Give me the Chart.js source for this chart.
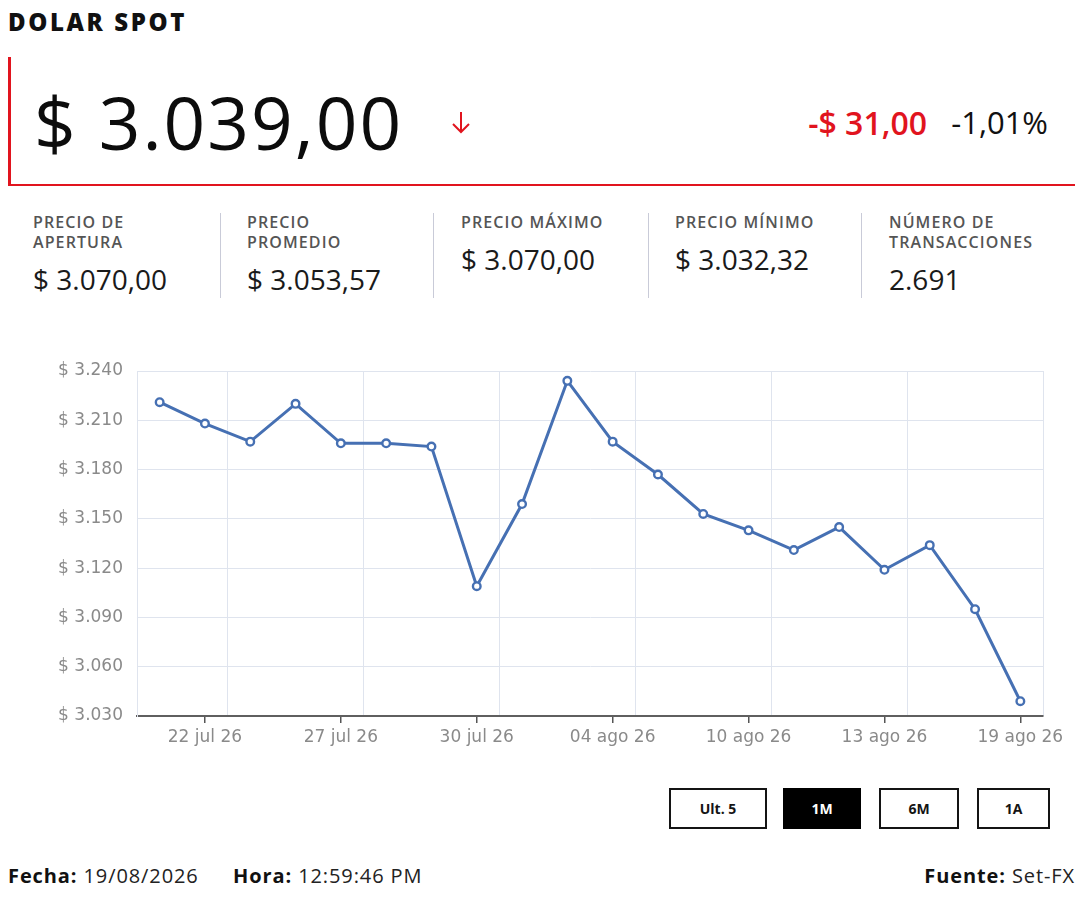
<!DOCTYPE html>
<html lang="es">
<head>
<meta charset="utf-8">
<script src="https://cdn.jsdelivr.net/npm/chart.js@4.4.1/dist/chart.umd.min.js"></script>
<style>
  html,body{margin:0;padding:0;background:#fff;}
  body{width:1080px;height:900px;position:relative;overflow:hidden;font-family:"Open Sans",sans-serif;color:#111;}
  .abs{position:absolute;white-space:nowrap;line-height:1;}
  .title{left:8px;top:10px;font-size:24px;font-weight:800;letter-spacing:2.6px;color:#111;}
  .hero{position:absolute;left:8px;top:57px;width:1064px;height:127px;border-left:3px solid #e1141e;border-bottom:2px solid #e1141e;}
  .price{left:34px;top:85px;font-size:73px;font-weight:400;letter-spacing:2px;color:#0c0c0c;}
  .chg{right:153px;top:107px;font-size:32px;font-weight:600;color:#e1141e;}
  .pct{right:32px;top:107px;font-size:31px;font-weight:500;color:#111;}
  .stat{position:absolute;top:212px;width:180px;}
  .stat .lab{font-size:16px;line-height:20px;font-weight:600;letter-spacing:1.1px;color:#555;}
  .stat .val{font-size:28px;line-height:28px;margin-top:13px;color:#1a1a1a;font-weight:400;}
  .sep{position:absolute;top:213px;width:1px;height:85px;background:#c9cbd8;}
  #wrap{position:absolute;left:0;top:340px;width:1080px;height:430px;}
  .btn{position:absolute;top:788px;height:41px;box-sizing:border-box;border:2px solid #141414;font-size:14px;font-weight:700;display:flex;align-items:center;justify-content:center;color:#141414;background:#fff;}
  .btn.on{background:#000;color:#fff;border-color:#000;}
  .foot{top:866px;font-size:20px;letter-spacing:0.9px;color:#222;}
  .foot b{font-weight:700;color:#111;}
</style>
</head>
<body>
<div class="abs title">DOLAR SPOT</div>
<div class="hero"></div>
<div class="abs price">$ 3.039,00</div>
<svg style="position:absolute;left:450px;top:110px" width="24" height="26" viewBox="0 0 24 26">
  <path d="M11 2 L11 22 M3 14 L11 22 L19 14" fill="none" stroke="#e1141e" stroke-width="2"/>
</svg>
<div class="abs chg">-$ 31,00</div>
<div class="abs pct">-1,01%</div>

<div class="stat" style="left:33px"><div class="lab">PRECIO DE<br>APERTURA</div><div class="val">$ 3.070,00</div></div>
<div class="sep" style="left:220px"></div>
<div class="stat" style="left:247px"><div class="lab">PRECIO<br>PROMEDIO</div><div class="val">$ 3.053,57</div></div>
<div class="sep" style="left:433px"></div>
<div class="stat" style="left:461px"><div class="lab">PRECIO MÁXIMO</div><div class="val">$ 3.070,00</div></div>
<div class="sep" style="left:648px"></div>
<div class="stat" style="left:675px"><div class="lab">PRECIO MÍNIMO</div><div class="val">$ 3.032,32</div></div>
<div class="sep" style="left:861px"></div>
<div class="stat" style="left:889px;width:190px"><div class="lab">NÚMERO DE<br>TRANSACCIONES</div><div class="val">2.691</div></div>

<div id="wrap"><canvas id="c"></canvas></div>

<div class="btn" style="left:669px;width:98px">Ult. 5</div>
<div class="btn on" style="left:783px;width:78px">1M</div>
<div class="btn" style="left:879px;width:80px">6M</div>
<div class="btn" style="left:977px;width:73px">1A</div>

<div class="abs foot" style="left:8px"><b>Fecha:</b> 19/08/2026</div>
<div class="abs foot" style="left:233px"><b>Hora:</b> 12:59:46 PM</div>
<div class="abs foot" style="right:5px"><b>Fuente:</b> Set-FX</div>

<script>
const dates = ['21 jul 26','22 jul 26','23 jul 26','24 jul 26','27 jul 26','28 jul 26','29 jul 26','30 jul 26','31 jul 26','03 ago 26','04 ago 26','05 ago 26','06 ago 26','10 ago 26','11 ago 26','12 ago 26','13 ago 26','14 ago 26','18 ago 26','19 ago 26'];
const prices = [3221,3208,3197,3220,3196,3196,3194,3109,3159,3234,3197,3177,3153,3143,3131,3145,3119,3134,3095,3039];
const labelIdx = [1,4,7,10,13,16,19];
const yTicks = [3030,3060,3090,3120,3150,3180,3210,3240];

const lineColor = '#4670b3';
const gridColor = '#dfe4ee';
const axisFont = {family:'DejaVu Sans', size:17};

function fmt(v){ return '$ ' + Math.floor(v/1000) + '.' + String(v%1000).padStart(3,'0'); }

new Chart(document.getElementById('c'), {
  type: 'line',
  data: {
    datasets: [{
      data: prices.map((v,i)=>({x:i, y:v})),
      xAxisID:'x', yAxisID:'y',
      borderColor: lineColor, borderWidth: 3,
      pointRadius: 3.8, pointBorderWidth: 2.4,
      pointBackgroundColor:'#fff', pointBorderColor: lineColor,
      tension: 0, fill:false
    }]
  },
  options: {
    responsive:true, maintainAspectRatio:false, animation:false,
    layout:{padding:{left:0, top:31, right:37, bottom:10}},
    plugins:{legend:{display:false}, tooltip:{enabled:false}},
    scales:{
      x:{
        type:'linear', position:'bottom', min:-0.5, max:dates.length-0.5,
        afterBuildTicks: s => { s.ticks = labelIdx.map(v=>({value:v})); },
        afterFit: s => { s.height = 44; },
        ticks:{callback: v => dates[v], color:'#8a8a8a', font:axisFont, padding:4, maxRotation:0, autoSkip:false},
        grid:{drawOnChartArea:false, drawTicks:true, tickLength:7, color:'#555', lineWidth:1.5},
        border:{display:true, color:'#5f5f5f', width:2}
      },
      xg:{
        type:'linear', position:'top', min:-0.5, max:dates.length-0.5,
        afterBuildTicks: s => { s.ticks = labelIdx.map(v=>({value:v+0.5})); },
        afterFit: s => { s.height = 0; },
        ticks:{display:false},
        grid:{color:gridColor, lineWidth:1, drawTicks:false},
        border:{display:false}
      },
      y:{
        type:'linear', min:3030, max:3240,
        afterBuildTicks: s => { s.ticks = yTicks.map(v=>({value:v})); },
        afterFit: s => { s.width = 137; },
        ticks:{callback: v => fmt(v), color:'#8a8a8a', font:axisFont, padding:14},
        grid:{color:gridColor, lineWidth:1, drawTicks:false},
        border:{display:true, color:gridColor, width:1}
      }
    }
  }
});
</script>
</body>
</html>
